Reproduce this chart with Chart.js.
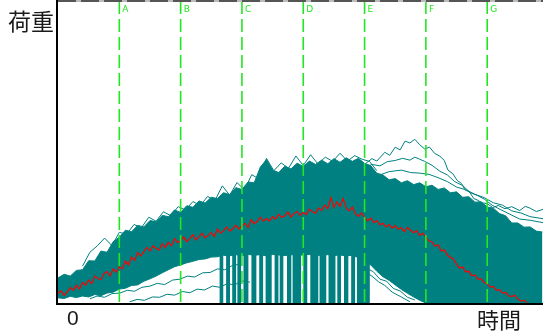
<!DOCTYPE html>
<html>
<head>
<meta charset="utf-8">
<script src="https://cdn.jsdelivr.net/npm/chart.js@4"></script>
<style>
body{margin:0;background:#fff;overflow:hidden}
#wrap{position:relative;width:543px;height:331px}
.lbl{position:absolute;font-family:"Noto Sans CJK JP","Noto Sans",sans-serif;color:#1a1a1a;line-height:1}
</style>
</head>
<body>
<div id="wrap">
<canvas id="myChart" width="543" height="331"></canvas>
<div class="lbl" style="left:8px;top:9px;font-size:23px">荷重</div>
<div class="lbl" style="left:67px;top:307px;font-size:21px;font-family:'Liberation Sans',Arial,sans-serif">0</div>
<div class="lbl" style="left:477px;top:307px;font-size:22px">時間</div>
</div>
<script>
// time axis 0..791, load axis 0..100
const markTimes = [100, 200, 300, 400, 500, 600, 700]
const markNames = ["A", "B", "C", "D", "E", "F", "G"]

// dense band of all curves: upper and lower edge
const bandTime = [0,10,20,30,40,50,60,70,80,90,100,110,120,130,140,150,160,170,180,190,200,210,220,230,240,250,260,270,280,290,300,310,320,330,340,350,360,370,380,390,400,410,420,430,440,450,460,470,480,490,500,510,520,530,540,550,560,570,580,590,600,610,620,630,640,650,660,670,680,690,700,710,720,730,740,750,760,770,780,790]
const bandTop = [8.3,9.5,8.9,10.8,11.0,14.0,13.9,17.2,16.8,20.3,21.8,24.1,23.6,25.7,25.2,27.3,26.9,29.0,28.6,30.8,30.0,32.2,31.7,33.8,33.1,35.0,34.6,36.5,35.9,38.2,37.6,40.1,39.8,45.0,47.5,44.0,43.2,45.3,44.4,46.3,45.2,47.0,45.9,47.3,46.1,47.8,46.6,48.1,46.9,47.9,46.2,45.5,43.0,42.4,40.8,41.2,39.8,40.5,39.2,39.8,38.5,39.0,37.6,38.1,36.5,36.8,35.0,35.2,33.4,33.5,31.8,31.4,29.6,28.9,26.5,26.5,25.1,25.2,23.8,23.5]
const bandBottom = [1.7,1.5,2.2,1.8,2.3,2.0,2.8,2.4,3.3,3.6,4.6,4.9,5.8,6.0,7.2,8.0,8.9,10.0,11.0,12.0,12.6,13.3,13.8,14.4,14.6,15.2,15.3,15.8,15.6,16.0,15.7,16.1,15.8,16.0,15.6,16.1,15.9,15.7,16.0,15.8,15.9,16.1,15.6,15.9,16.0,15.7,15.9,15.6,15.8,15.0,14.0,12.6,10.5,8.7,7.5,6.0,4.5,3.2,2.0,0.9,0,0,0,0,0,0,0,0,0,0,0,0,0,0,0,0,0,0,0,0]

// curves dropping to zero under the band
const dropTime = [269,280,290,298,310,323,334,344,348,359,367,380,388,392,396,406,419,424,432,437,447,452,461,473,484,493,498,503,508]
const dropLoad = [16,16,16,16,16,16,16,16,16,16,16,16,16,16,16,16,16,16,16,16,16,16,16,16,16,16,16,16,16]
const thinDropTime = [275,285,303,316,329,340,354,363,374,385,401,412,428,442,457,467,479,489]
const thinDropLoad = [16,16,16,16,16,16,16,16,16,16,16,16,16,16,16,16,16,16]

// single curves standing out of the band
const fringeTime = [40,52,64,76,88,100,112,124,136,148,160,172,184,196,208,220,232,244,256,268,280,292,304,316,328,340,352,364,376,388,400,412,424,436,448,460,472,484,496,508,520]
const fringeLoad = [12.2,16.8,18.9,21.5,19.0,23.4,22.8,26.0,24.9,28.4,27.1,30.2,28.9,31.9,30.8,33.6,32.2,35.3,33.9,38.8,35.7,39.9,37.4,42.5,41.0,47.9,43.8,46.4,44.6,48.7,45.5,49.1,46.0,48.3,46.9,49.6,47.0,48.8,47.6,46.9,43.8]
const peakTime = [480,492,500,512,520,533,541,550,558,566,574,582,590,598,606,614,623,630,636,644,651,658,664,671,678,685,691,700,709,718,729,740,753,762,770,780,791]
const peakLoad = [45.0,46.8,45.9,47.8,47.0,49.9,48.9,51.6,50.7,53.6,53.0,54.2,52.4,51.0,51.6,49.6,48.6,47.2,44.0,42.8,40.6,39.6,37.4,36.8,34.6,34.0,33.2,32.9,31.6,32.3,31.2,31.9,30.6,32.0,31.4,30.3,31.0]
const secondTime = [501,512,525,537,550,562,574,582,590,598,610,623,635,647,660,672,684,696,708,721,737,753,770,791]
const secondLoad = [44.7,45.9,45.4,46.8,47.2,47.9,47.3,48.3,47.6,46.9,45.6,43.6,42.4,40.2,38.9,36.6,35.6,34.3,32.4,31.0,29.4,27.8,27.4,26.6]
const thirdTime = [525,540,560,575,590,605,620,635,650,665,680,695,710,725,740,755,770,791]
const thirdLoad = [42.4,43.5,44.0,43.2,43.0,42.6,41.5,40.2,38.4,37.5,36.0,34.9,33.2,32.4,30.5,29.8,28.6,27.9]
const lowATime = [52,64,76,88,101,113,125,137,150,162,174,187,199,211,223,236,248,260,272,285,297]
const lowALoad = [1.4,2.3,1.9,3.1,3.3,4.2,3.9,5.2,5.6,6.5,6.1,7.6,7.9,8.9,8.6,10.0,10.1,11.3,11.0,12.5,12.8]
const lowBTime = [117,129,141,154,166,178,190,203,215,227,239,252,264,276,288,300,313]
const lowBLoad = [0.4,1.2,0.9,2.0,1.9,2.9,2.6,3.8,3.4,4.6,4.3,5.6,5.2,6.4,6.0,7.3,6.9]
const diagATime = [492,503,514,525,536,547,558,570,582]
const diagALoad = [13.6,11.5,10.4,7.9,7.2,4.8,4.0,1.9,1.0]
const diagBTime = [501,512,523,533,545,558,566,574]
const diagBLoad = [10.3,8.9,7.0,5.8,3.6,2.2,1.3,0.4]

// average curve, one value every 5 time units from 0
const avgStep = 5
const avgLoad = [
 3.2,4.0,2.5,3.6,5.1,4.2,5.9,4.6,6.8,5.9,
 7.6,6.4,8.9,8.1,7.7,9.8,10.4,8.9,11.3,10.2,
 12.0,11.3,13.9,12.6,15.2,14.1,16.7,15.6,17.0,18.4,
 17.2,18.9,18.1,17.5,19.6,18.4,20.1,19.0,21.3,20.0,
 20.6,21.9,20.3,21.4,22.6,20.9,22.0,23.1,21.6,22.4,
 23.3,22.0,24.5,23.1,23.9,25.2,23.8,24.6,25.8,24.5,
 25.5,26.4,25.0,27.6,26.3,27.0,28.4,27.1,28.0,27.2,
 28.6,27.8,29.4,28.3,28.9,30.1,28.5,29.6,30.3,29.0,
 30.0,29.3,31.1,30.2,29.7,31.5,30.6,32.4,31.2,34.9,
 31.6,33.5,32.0,34.6,31.4,30.5,31.8,29.6,28.7,29.8,
 28.4,27.2,28.1,26.6,27.3,25.9,26.4,25.2,26.0,24.8,
 25.6,24.4,24.9,23.6,25.0,24.1,23.3,24.0,22.4,23.1,
 21.8,20.6,20.2,18.8,19.3,17.2,17.6,15.9,15.1,14.6,
 12.8,11.6,11.9,10.3,10.5,9.0,9.3,7.8,8.0,6.8,
 6.4,5.3,5.5,4.2,4.4,3.3,3.5,2.4,2.1,2.6,
 1.3,0.6,0.9,0.2]

const TEAL = "#008080"
const GREEN = "#22e622"

function pts(t, v){
    let out = []
    for (let i in t){ out.push({x: t[i], y: v[i]}) }
    return out
}
function tealLine(t, v){
    return {type: "line", data: pts(t, v), borderColor: TEAL, borderWidth: 1, pointRadius: 0, fill: false, order: 5}
}

let avgPts = []
for (let i in avgLoad){ avgPts.push({x: i * avgStep, y: avgLoad[i]}) }

let datasets = []
// green marker lines first -> drawn on top
for (let i in markTimes){
    datasets.push({type: "line", data: [{x: markTimes[i], y: 100}, {x: markTimes[i], y: 0}],
        borderColor: GREEN, borderWidth: 1.6, borderDash: [13, 5], pointRadius: 0, fill: false, order: 0})
}
datasets.push({type: "line", data: avgPts, borderColor: "#ff0000", borderWidth: 1.2, pointRadius: 0, fill: false, order: 1})
datasets.push({type: "line", data: pts(bandTime, bandTop), borderColor: TEAL, backgroundColor: TEAL, borderWidth: 1, pointRadius: 0, fill: "+1", order: 6})
datasets.push({type: "line", data: pts(bandTime, bandBottom), borderColor: TEAL, borderWidth: 1, pointRadius: 0, fill: false, order: 7})
datasets.push({type: "bar", data: pts(dropTime, dropLoad), backgroundColor: TEAL, barThickness: 3, order: 8})
datasets.push({type: "bar", data: pts(thinDropTime, thinDropLoad), backgroundColor: TEAL, barThickness: 2, order: 8})
datasets.push(tealLine(fringeTime, fringeLoad))
datasets.push(tealLine(peakTime, peakLoad))
datasets.push(tealLine(secondTime, secondLoad))
datasets.push(tealLine(thirdTime, thirdLoad))
datasets.push(tealLine(lowATime, lowALoad))
datasets.push(tealLine(lowBTime, lowBLoad))
datasets.push(tealLine(diagATime, diagALoad))
datasets.push(tealLine(diagBTime, diagBLoad))

const frame = {
    id: "frame",
    afterDraw(chart){
        const c = chart.ctx, a = chart.chartArea
        c.save()
        // top border
        c.strokeStyle = "#bbbbbb"; c.lineWidth = 2
        c.beginPath(); c.moveTo(a.left, 1); c.lineTo(a.right, 1); c.stroke()
        c.strokeStyle = "#555555"; c.setLineDash([18, 5])
        c.beginPath(); c.moveTo(a.left, 1); c.lineTo(a.right, 1); c.stroke()
        c.setLineDash([])
        // axes
        c.strokeStyle = "#000000"; c.lineWidth = 2
        c.beginPath(); c.moveTo(a.left - 1, 0); c.lineTo(a.left - 1, a.bottom + 1); c.lineTo(a.right, a.bottom + 1); c.stroke()
        // marker names
        c.fillStyle = GREEN; c.font = "9px 'DejaVu Sans', sans-serif"; c.textBaseline = "top"
        const xs = chart.scales.x
        for (let i in markTimes){ c.fillText(markNames[i], xs.getPixelForValue(markTimes[i]) + 3, 5) }
        c.restore()
    }
}

new Chart(document.getElementById("myChart").getContext("2d"), {
    data: {datasets: datasets},
    options: {
        responsive: false,
        animation: false,
        layout: {padding: {left: 58, right: 0, top: 1, bottom: 28}},
        plugins: {legend: {display: false}, tooltip: {enabled: false}},
        scales: {
            x: {type: "linear", min: 0, max: 791, offset: false, display: false},
            y: {min: 0, max: 100, display: false}
        }
    },
    plugins: [frame]
})
</script>
</body>
</html>
